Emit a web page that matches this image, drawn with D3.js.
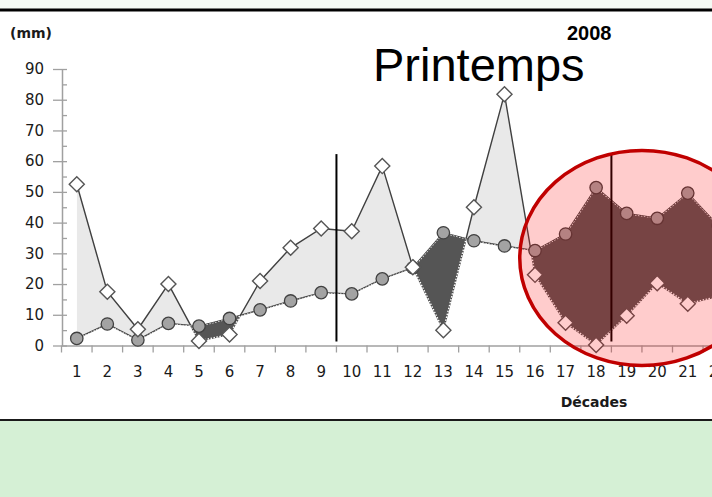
<!DOCTYPE html>
<html>
<head>
    <meta charset="utf-8">
    <script type="text/javascript" src="https://cdn.jsdelivr.net/npm/d3@7"></script>
    <style>
        body { margin: 0; padding: 0; background: #fff; }
        svg { display: block; }
    </style>
</head>

<body>
    <div id="viz"></div>
    <script type="text/javascript">

    // décades (categories) and the two series
    var decades = [1, 2, 3, 4, 5, 6, 7, 8, 9, 10, 11, 12, 13, 14, 15, 16, 17, 18, 19, 20, 21, 22];
    var serieLosange = [52.5, 17.5, 5.3, 20, 1.5, 3.6, 21, 31.8, 38.1, 37.2, 58.4, 25.5, 5, 45, 81.8, 23, 7.4, 0.2, 9.7, 20.3, 13.6, 16];
    var serieRond = [2.3, 7, 1.8, 7.2, 6.3, 8.8, 11.6, 14.5, 17.2, 16.8, 21.7, 25.3, 36.7, 34.1, 32.4, 30.9, 36.3, 51.4, 43, 41.4, 49.6, 39];
    var yTicks = [0, 10, 20, 30, 40, 50, 60, 70, 80, 90];
    var yMinorTicks = [5, 15, 25, 35, 45, 55, 65, 75, 85];
    // separators drawn after décade 9 and 18
    var separateurs = [10, 19];

    var width = 712, height = 497;
    var tickFont = "'DejaVu Sans', Verdana, sans-serif";

    var data = decades.map(function(d, i) {
        return {c: d, a: serieLosange[i], b: serieRond[i]};
    });

    var svg = d3.select("#viz")
        .append("svg")
        .attr("width", width)
        .attr("height", height);

    // background bands
    svg.append("rect").attr("x", 0).attr("y", 0).attr("width", width).attr("height", 10).style("fill", "#f4faf4");
    svg.append("rect").attr("x", 0).attr("y", 420).attr("width", width).attr("height", 77).style("fill", "#d5f0d5");
    svg.append("line").attr("x1", 0).attr("x2", width).attr("y1", 10).attr("y2", 10)
        .style("stroke", "#000").style("stroke-width", 3);
    svg.append("line").attr("x1", 0).attr("x2", width).attr("y1", 420).attr("y2", 420)
        .style("stroke", "#1a1a1a").style("stroke-width", 2);

    var x = d3.scaleBand()
        .domain(decades)
        .range([61.5, 61.5 + decades.length * 30.55])
        .paddingInner(0);
    var bw = x.bandwidth();
    var cx = function(d) { return x(d.c) + bw / 2; };

    var y = d3.scaleLinear()
        .domain([0, 90])
        .range([345.5, 69]);

    // axes
    var axisY = svg.append("g")
        .attr("transform", "translate(62,0)")
        .call(d3.axisLeft(y).tickValues(yTicks).tickSizeInner(9).tickSizeOuter(0).tickPadding(9));
    axisY.select(".domain").style("stroke", "#a0a0a0").style("stroke-width", 1.5);
    axisY.selectAll(".tick line").style("stroke", "#a0a0a0").style("stroke-width", 1.3);
    axisY.selectAll(".tick text")
        .style("font-family", tickFont).style("font-size", "15px").style("fill", "#1a1a1a");

    var axisYMinor = svg.append("g")
        .attr("transform", "translate(62,0)")
        .call(d3.axisRight(y).tickValues(yTicks.concat(yMinorTicks)).tickSize(5).tickFormat(""));
    axisYMinor.select(".domain").remove();
    axisYMinor.selectAll(".tick line").style("stroke", "#a0a0a0").style("stroke-width", 1.3);

    var axisX = svg.append("g")
        .attr("transform", "translate(0," + y(0) + ")")
        .call(d3.axisBottom(x).tickSize(0).tickSizeOuter(0).tickPadding(21));
    axisX.select(".domain").style("stroke", "#a0a0a0").style("stroke-width", 1.5);
    axisX.selectAll(".tick text")
        .style("font-family", tickFont).style("font-size", "15px").style("fill", "#1a1a1a");

    // ticks between categories
    svg.append("g").selectAll("line")
        .data(decades)
        .enter().append("line")
        .attr("x1", function(d) { return x(d); })
        .attr("x2", function(d) { return x(d); })
        .attr("y1", y(0))
        .attr("y2", y(0) + 7)
        .style("stroke", "#a0a0a0")
        .style("stroke-width", 1.3);

    // clip regions above / below the circle series
    var defs = svg.append("defs");
    defs.append("clipPath").attr("id", "clip-above")
        .append("path")
        .attr("d", d3.area().x(cx).y0(0).y1(function(d) { return y(d.b); })(data));
    defs.append("clipPath").attr("id", "clip-below")
        .append("path")
        .attr("d", d3.area().x(cx).y0(height).y1(function(d) { return y(d.b); })(data));

    var between = d3.area()
        .x(cx)
        .y0(function(d) { return y(d.b); })
        .y1(function(d) { return y(d.a); });

    svg.append("path")
        .attr("d", between(data))
        .attr("clip-path", "url(#clip-above)")
        .style("fill", "#e9e9e9");

    var lineA = d3.line().x(cx).y(function(d) { return y(d.a); });
    var lineB = d3.line().x(cx).y(function(d) { return y(d.b); });

    svg.append("path").attr("d", lineA(data))
        .style("fill", "none").style("stroke", "#404040").style("stroke-width", 1.4);
    svg.append("path").attr("d", lineB(data))
        .style("fill", "none").style("stroke", "#404040").style("stroke-width", 1.4);

    svg.append("path")
        .attr("d", between(data))
        .attr("clip-path", "url(#clip-below)")
        .style("fill", "#555555")
        .style("stroke", "#ffffff")
        .style("stroke-width", 1.4)
        .style("stroke-dasharray", "1.5,1.5");

    // markers
    svg.append("g").selectAll("circle")
        .data(data)
        .enter().append("circle")
        .attr("cx", cx)
        .attr("cy", function(d) { return y(d.b); })
        .attr("r", 6.2)
        .style("fill", "#a3a3a3")
        .style("stroke", "#404040")
        .style("stroke-width", 1.3);

    svg.append("g").selectAll("path")
        .data(data)
        .enter().append("path")
        .attr("d", d3.symbol().type(d3.symbolDiamond2).size(145))
        .attr("transform", function(d) { return "translate(" + cx(d) + "," + y(d.a) + ")"; })
        .style("fill", "#ffffff")
        .style("stroke", "#555555")
        .style("stroke-width", 1.4);

    // vertical separators
    svg.append("g").selectAll("line")
        .data(separateurs)
        .enter().append("line")
        .attr("x1", function(d) { return x(d); })
        .attr("x2", function(d) { return x(d); })
        .attr("y1", y(62.3))
        .attr("y2", y(1.3))
        .style("stroke", "#000")
        .style("stroke-width", 2);

    // texts
    svg.append("text").attr("x", 10).attr("y", 38).text("(mm)")
        .style("font-family", tickFont).style("font-weight", "bold").style("font-size", "14px").style("fill", "#1a1a1a");
    svg.append("text").attr("x", 567).attr("y", 40).text("2008")
        .style("font-family", "'Liberation Sans', Arial, sans-serif").style("font-weight", "bold").style("font-size", "20px").style("fill", "#000");
    svg.append("text").attr("x", 373).attr("y", 81).text("Printemps")
        .style("font-family", "'Liberation Sans', Arial, sans-serif").style("font-size", "47px").style("fill", "#000");
    svg.append("text").attr("x", 594).attr("y", 407).attr("text-anchor", "middle").text("Décades")
        .style("font-family", tickFont).style("font-weight", "bold").style("font-size", "14px").style("fill", "#1a1a1a");

    // red highlight over décades 17-22
    svg.append("ellipse")
        .attr("cx", x(20))
        .attr("cy", y(28.5))
        .attr("rx", 4 * bw)
        .attr("ry", y(0) - y(35))
        .style("fill", "rgba(255,0,0,0.2)")
        .style("stroke", "#c00000")
        .style("stroke-width", 3.5);

    </script>
</body>
</html>
